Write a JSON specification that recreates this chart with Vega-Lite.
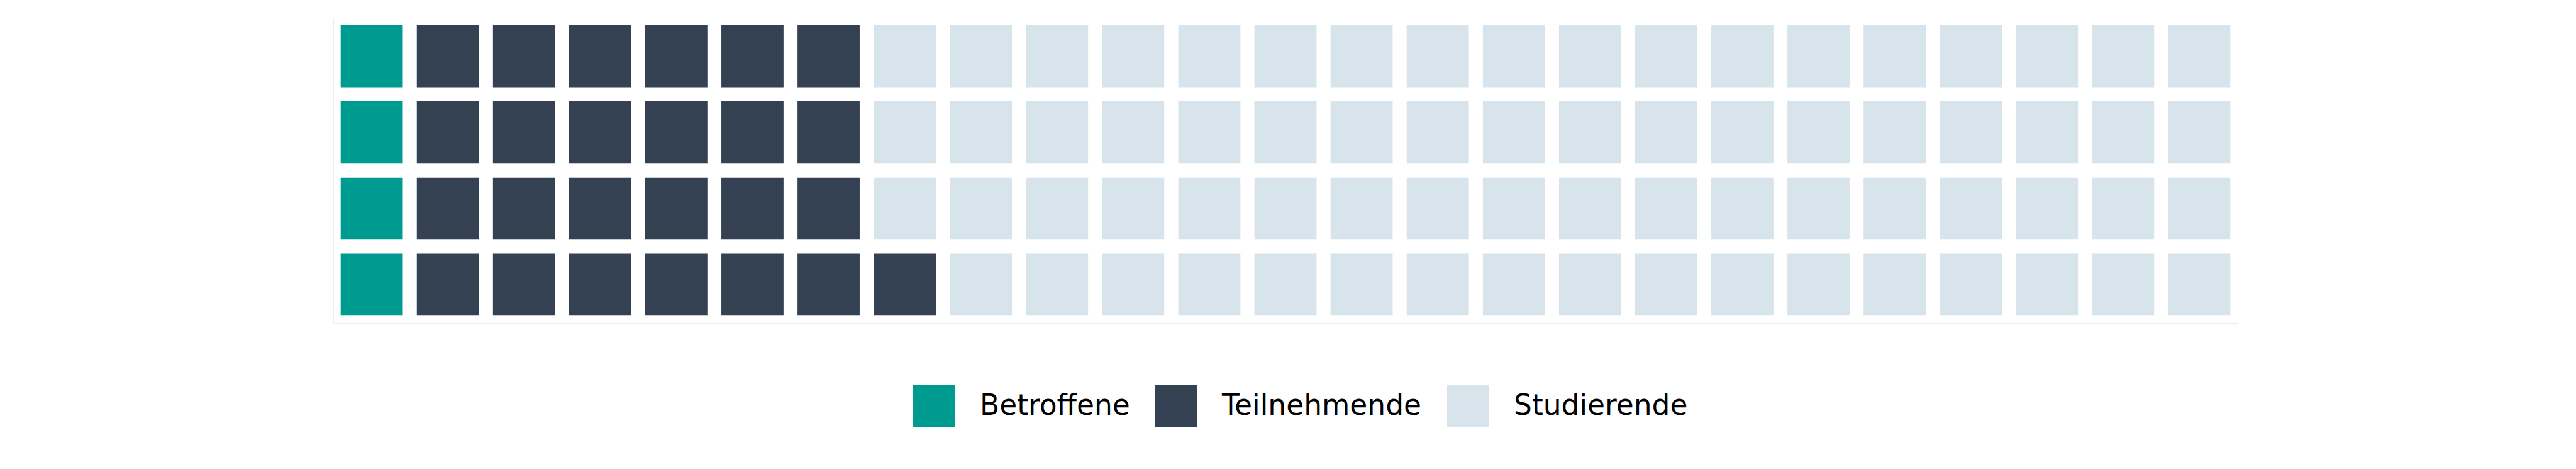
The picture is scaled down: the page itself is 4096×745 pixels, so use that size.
{
  "$schema": "https://vega.github.io/schema/vega-lite/v6.json",
  "autosize": {"type": "none"},
  "padding": {"left": 530, "top": 28, "right": 538, "bottom": 232},
  "width": 3028,
  "height": 485,
  "background": "white",
  "config": {
    "view": {"stroke": "#e9eef0", "strokeWidth": 1},
    "font": "DejaVu Sans"
  },
  "data": {
    "values": [
      {"c": 1, "r": 1, "g": "Betroffene"}, {"c": 1, "r": 2, "g": "Betroffene"}, {"c": 1, "r": 3, "g": "Betroffene"}, {"c": 1, "r": 4, "g": "Betroffene"},
      {"c": 2, "r": 1, "g": "Teilnehmende"}, {"c": 2, "r": 2, "g": "Teilnehmende"}, {"c": 2, "r": 3, "g": "Teilnehmende"}, {"c": 2, "r": 4, "g": "Teilnehmende"},
      {"c": 3, "r": 1, "g": "Teilnehmende"}, {"c": 3, "r": 2, "g": "Teilnehmende"}, {"c": 3, "r": 3, "g": "Teilnehmende"}, {"c": 3, "r": 4, "g": "Teilnehmende"},
      {"c": 4, "r": 1, "g": "Teilnehmende"}, {"c": 4, "r": 2, "g": "Teilnehmende"}, {"c": 4, "r": 3, "g": "Teilnehmende"}, {"c": 4, "r": 4, "g": "Teilnehmende"},
      {"c": 5, "r": 1, "g": "Teilnehmende"}, {"c": 5, "r": 2, "g": "Teilnehmende"}, {"c": 5, "r": 3, "g": "Teilnehmende"}, {"c": 5, "r": 4, "g": "Teilnehmende"},
      {"c": 6, "r": 1, "g": "Teilnehmende"}, {"c": 6, "r": 2, "g": "Teilnehmende"}, {"c": 6, "r": 3, "g": "Teilnehmende"}, {"c": 6, "r": 4, "g": "Teilnehmende"},
      {"c": 7, "r": 1, "g": "Teilnehmende"}, {"c": 7, "r": 2, "g": "Teilnehmende"}, {"c": 7, "r": 3, "g": "Teilnehmende"}, {"c": 7, "r": 4, "g": "Teilnehmende"},
      {"c": 8, "r": 1, "g": "Teilnehmende"}, {"c": 8, "r": 2, "g": "Studierende"}, {"c": 8, "r": 3, "g": "Studierende"}, {"c": 8, "r": 4, "g": "Studierende"},
      {"c": 9, "r": 1, "g": "Studierende"}, {"c": 9, "r": 2, "g": "Studierende"}, {"c": 9, "r": 3, "g": "Studierende"}, {"c": 9, "r": 4, "g": "Studierende"},
      {"c": 10, "r": 1, "g": "Studierende"}, {"c": 10, "r": 2, "g": "Studierende"}, {"c": 10, "r": 3, "g": "Studierende"}, {"c": 10, "r": 4, "g": "Studierende"},
      {"c": 11, "r": 1, "g": "Studierende"}, {"c": 11, "r": 2, "g": "Studierende"}, {"c": 11, "r": 3, "g": "Studierende"}, {"c": 11, "r": 4, "g": "Studierende"},
      {"c": 12, "r": 1, "g": "Studierende"}, {"c": 12, "r": 2, "g": "Studierende"}, {"c": 12, "r": 3, "g": "Studierende"}, {"c": 12, "r": 4, "g": "Studierende"},
      {"c": 13, "r": 1, "g": "Studierende"}, {"c": 13, "r": 2, "g": "Studierende"}, {"c": 13, "r": 3, "g": "Studierende"}, {"c": 13, "r": 4, "g": "Studierende"},
      {"c": 14, "r": 1, "g": "Studierende"}, {"c": 14, "r": 2, "g": "Studierende"}, {"c": 14, "r": 3, "g": "Studierende"}, {"c": 14, "r": 4, "g": "Studierende"},
      {"c": 15, "r": 1, "g": "Studierende"}, {"c": 15, "r": 2, "g": "Studierende"}, {"c": 15, "r": 3, "g": "Studierende"}, {"c": 15, "r": 4, "g": "Studierende"},
      {"c": 16, "r": 1, "g": "Studierende"}, {"c": 16, "r": 2, "g": "Studierende"}, {"c": 16, "r": 3, "g": "Studierende"}, {"c": 16, "r": 4, "g": "Studierende"},
      {"c": 17, "r": 1, "g": "Studierende"}, {"c": 17, "r": 2, "g": "Studierende"}, {"c": 17, "r": 3, "g": "Studierende"}, {"c": 17, "r": 4, "g": "Studierende"},
      {"c": 18, "r": 1, "g": "Studierende"}, {"c": 18, "r": 2, "g": "Studierende"}, {"c": 18, "r": 3, "g": "Studierende"}, {"c": 18, "r": 4, "g": "Studierende"},
      {"c": 19, "r": 1, "g": "Studierende"}, {"c": 19, "r": 2, "g": "Studierende"}, {"c": 19, "r": 3, "g": "Studierende"}, {"c": 19, "r": 4, "g": "Studierende"},
      {"c": 20, "r": 1, "g": "Studierende"}, {"c": 20, "r": 2, "g": "Studierende"}, {"c": 20, "r": 3, "g": "Studierende"}, {"c": 20, "r": 4, "g": "Studierende"},
      {"c": 21, "r": 1, "g": "Studierende"}, {"c": 21, "r": 2, "g": "Studierende"}, {"c": 21, "r": 3, "g": "Studierende"}, {"c": 21, "r": 4, "g": "Studierende"},
      {"c": 22, "r": 1, "g": "Studierende"}, {"c": 22, "r": 2, "g": "Studierende"}, {"c": 22, "r": 3, "g": "Studierende"}, {"c": 22, "r": 4, "g": "Studierende"},
      {"c": 23, "r": 1, "g": "Studierende"}, {"c": 23, "r": 2, "g": "Studierende"}, {"c": 23, "r": 3, "g": "Studierende"}, {"c": 23, "r": 4, "g": "Studierende"},
      {"c": 24, "r": 1, "g": "Studierende"}, {"c": 24, "r": 2, "g": "Studierende"}, {"c": 24, "r": 3, "g": "Studierende"}, {"c": 24, "r": 4, "g": "Studierende"},
      {"c": 25, "r": 1, "g": "Studierende"}, {"c": 25, "r": 2, "g": "Studierende"}, {"c": 25, "r": 3, "g": "Studierende"}, {"c": 25, "r": 4, "g": "Studierende"}
    ]
  },
  "mark": {"type": "rect", "strokeWidth": 0},
  "encoding": {
    "x": {
      "field": "c", "type": "ordinal", "axis": null,
      "scale": {"paddingInner": 0.184, "paddingOuter": 0.0965}
    },
    "y": {
      "field": "r", "type": "ordinal", "axis": null, "sort": "descending",
      "scale": {"paddingInner": 0.184, "paddingOuter": 0.0965}
    },
    "color": {
      "field": "g", "type": "nominal",
      "scale": {
        "domain": ["Betroffene", "Teilnehmende", "Studierende"],
        "range": ["#009b90", "#344152", "#d8e4ec"]
      },
      "legend": {
        "title": null,
        "orient": "none",
        "direction": "horizontal",
        "legendX": 922,
        "legendY": 583,
        "padding": 0,
        "symbolType": "square",
        "symbolSize": 4489,
        "symbolStrokeWidth": 0,
        "symbolOpacity": 1,
        "labelFont": "DejaVu Sans",
        "labelFontSize": 45.5,
        "labelColor": "#000000",
        "labelOffset": 39,
        "columnPadding": 40,
        "labelLimit": 0
      }
    }
  }
}
